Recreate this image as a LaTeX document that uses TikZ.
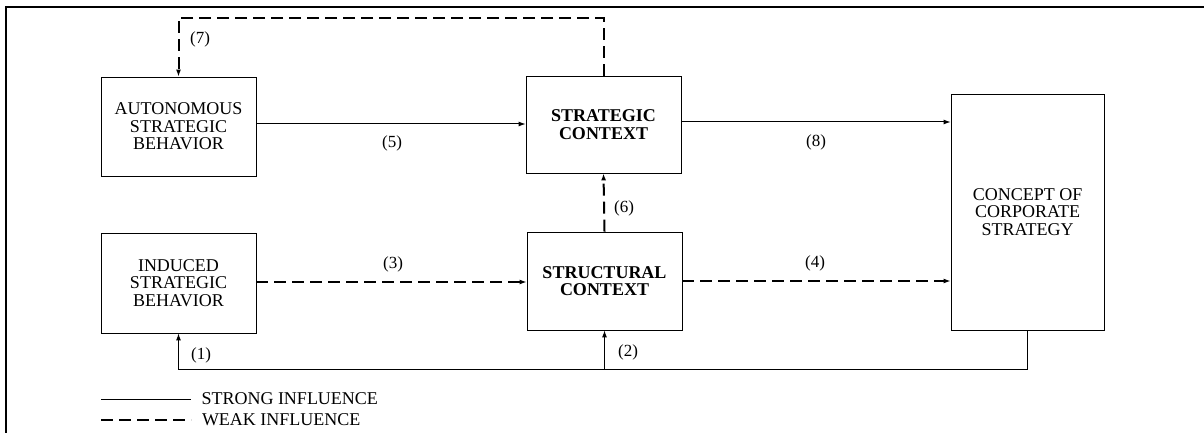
\documentclass[tikz,border=0pt]{standalone}
\usepackage{fontspec}
\setmainfont{Liberation Serif}
\usepackage{tikz}
\usetikzlibrary{arrows.meta}

\begin{document}
\begin{tikzpicture}[x=1pt, y=-1pt,
        box/.style={draw, line width=0.8pt, align=center, inner sep=0pt,
            font=\fontsize{18}{17.5}\selectfont},
        strong/.style={line width=1pt},
        weak/.style={line width=2pt, dash pattern=on 12pt off 6pt},
        tip/.style={-{Latex[length=7pt,width=5pt]}},
        lab/.style={font=\fontsize{17}{17}\selectfont, inner sep=0pt}]
        \useasboundingbox (0,0) rectangle (1204,433);
        \draw[line width=2.5pt] (6,433) -- (6,7) -- (1204,7);

        \node[box, minimum width=155pt, minimum height=99pt] (auto) at (178.5,126.5)
            {AUTONOMOUS\\STRATEGIC\\BEHAVIOR};
        \node[box, minimum width=155pt, minimum height=100pt] (induced) at (178.5,283)
            {INDUCED\\STRATEGIC\\BEHAVIOR};
        \node[box, minimum width=155pt, minimum height=97pt, font=\fontsize{18}{17.5}\selectfont\bfseries] (strat) at (603.5,124.5)
            {STRATEGIC\\CONTEXT};
        \node[box, minimum width=155pt, minimum height=98pt, font=\fontsize{18}{17.5}\selectfont\bfseries] (struct) at (604.5,281)
            {STRUCTURAL\\CONTEXT};
        \node[box, minimum width=153pt, minimum height=236pt] (concept) at (1027.5,212)
            {CONCEPT OF\\CORPORATE\\STRATEGY};

        \coordinate (top) at (0,18);
        \coordinate (low) at (0,369);

        \draw[strong, tip] (auto.east |- 0,124) -- (strat.west |- 0,124);
        \draw[strong, tip] (strat.east |- 0,122) -- (concept.west |- 0,122);
        \draw[weak, tip] (induced.east |- 0,282) -- (struct.west |- 0,282);
        \draw[weak, tip] (struct.east |- 0,281) -- (concept.west |- 0,281);
        \draw[weak, tip] (struct.north) -- (strat.south);
        \draw[weak, tip] (strat.north) -- (strat.north |- top) -| (auto.north);
        \draw[strong, tip] (concept.south) -- (concept.south |- low) -| (induced.south);
        \draw[strong, tip] (struct.south |- low) -- (struct.south);

        \node[lab] (l7) at (200,39) {(7)};
        \node[lab] (l5) at (392,143) {(5)};
        \node[lab] (l8) at (816,142) {(8)};
        \node[lab] (l6) at (624,208) {(6)};
        \node[lab] (l3) at (393,264) {(3)};
        \node[lab] (l4) at (815,263) {(4)};
        \node[lab] (l1) at (201,355) {(1)};
        \node[lab] (l2) at (628,352) {(2)};

        \coordinate (s0) at (101,399);
        \coordinate (w0) at (101,420);
        \draw[strong] (s0) -- ++(90,0) node[lab, right=10pt, font=\fontsize{18}{18}\selectfont] (lstrong) {STRONG INFLUENCE};
        \draw[weak] (w0) -- ++(90,0) node[lab, right=10pt, font=\fontsize{18}{18}\selectfont] (lweak) {WEAK INFLUENCE};

    \end{tikzpicture}
\end{document}
